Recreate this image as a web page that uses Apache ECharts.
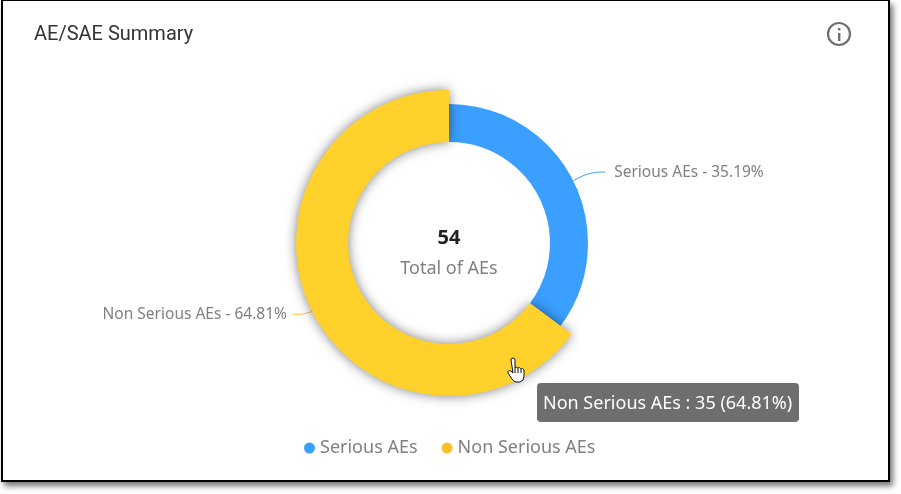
<!DOCTYPE html>
<html>
<head>
<meta charset="utf-8">
<style>
html,body{margin:0;padding:0;width:901px;height:494px;background:#fff;overflow:hidden}
#frame{position:absolute;left:1px;top:0;width:885px;height:479px;border:2px solid #000;border-width:1px 2px 2px 2px;box-shadow:3px 4px 6px rgba(0,0,0,.55);background:#fff}
#c{position:absolute;left:0;top:0;width:901px;height:494px}
</style>
<script src="https://cdn.jsdelivr.net/npm/echarts@6/dist/echarts.min.js"></script>
</head>
<body>
<div id="frame"></div>
<div id="c"></div>
<script>
const categories = ['Serious AEs', 'Non Serious AEs'];
const values = [19, 35];
const percents = ['35.19', '64.81'];
const colors = ['#3A9FFF', '#FBBF2A'];
const totalValue = '54';
const totalLabel = 'Total of AEs';
const chartTitle = 'AE/SAE Summary';
const FONT = '"Noto Sans", sans-serif';

const HandShape = echarts.graphic.extendPath(
  'M5 2a2 2 0 0 1 4 0V10a2 2 0 0 1 3 0a2 2 0 0 1 3 1a2 2 0 0 1 3 1V18q0 5-4 6h-4q-2 0-4-3l-4-6q-1-3 3-2l2 2zM9 10v5M12 10v5M15 11v4',
  {}
);
echarts.graphic.registerShape('handCursor', HandShape);

const chart = echarts.init(document.getElementById('c'), null, {renderer: 'canvas'});
chart.setOption({
  animation: false,
  backgroundColor: 'transparent',
  title: {
    text: chartTitle, left: 29, top: 20,
    textStyle: {fontFamily: 'Roboto', fontSize: 20, fontWeight: 400, color: '#333'}
  },
  tooltip: {
    trigger: 'item', showDelay: 0, transitionDuration: 0,
    backgroundColor: '#6E6E6E', borderWidth: 0, borderRadius: 4, padding: [7, 7, 7, 6],
    textStyle: {fontFamily: FONT, fontSize: 18, color: '#fff'},
    extraCssText: 'box-shadow:none;line-height:25px;',
    position: [537, 383],
    formatter: p => `${p.name} : ${p.value} (${percents[p.dataIndex]}%)`
  },
  legend: {
    data: categories, bottom: 32, left: 299, icon: 'circle',
    itemWidth: 11, itemHeight: 11, itemGap: 24,
    textStyle: {fontFamily: FONT, fontSize: 18, color: '#808080'}
  },
  color: colors,
  series: [{
    type: 'pie',
    center: [449, 243],
    radius: [101, 139],
    startAngle: 90,
    avoidLabelOverlap: false,
    label: {
      show: true, fontFamily: FONT, fontSize: 15.5, color: '#808080',
      formatter: p => `${p.name} - ${percents[p.dataIndex]}%`
    },
    labelLine: {show: true, length2: 13, smooth: 0.4, lineStyle: {width: 1}},
    emphasis: {
      scale: true, scaleSize: 14,
      itemStyle: {color: '#FFD12A', shadowBlur: 12, shadowColor: 'rgba(0,0,0,0.5)'},
      label: {show: true, fontSize: 15.5, fontWeight: 400}
    },
    data: [
      {name: categories[0], value: values[0], label: {distanceToLabelLine: 9}, labelLine: {length: 19, length2: 15}},
      {name: categories[1], value: values[1], label: {distanceToLabelLine: 6}, labelLine: {length: 20, length2: 14}}
    ]
  }],
  graphic: [
    {type: 'text', style: {x: 449, y: 238, text: totalValue, align: 'center', verticalAlign: 'middle', fontFamily: FONT, fontSize: 20, fontWeight: 700, fill: '#222'}},
    {type: 'text', style: {x: 449, y: 269, text: totalLabel, align: 'center', verticalAlign: 'middle', fontFamily: FONT, fontSize: 18, fill: '#808080'}},
    {type: 'circle', shape: {cx: 839, cy: 34, r: 11}, style: {fill: 'none', stroke: '#6f6f6f', lineWidth: 2.2}},
    {type: 'rect', shape: {x: 838, y: 33, width: 2.4, height: 8}, style: {fill: '#6f6f6f'}},
    {type: 'rect', shape: {x: 838, y: 28, width: 2.4, height: 2.4}, style: {fill: '#6f6f6f'}},
    {type: 'handCursor', x: 506, y: 358, z: 100, shape: {x: 0, y: 0, width: 20, height: 24},
      style: {fill: '#fff', stroke: '#111', lineWidth: 1}}
  ]
});
chart.dispatchAction({type: 'highlight', seriesIndex: 0, dataIndex: 1});
chart.dispatchAction({type: 'showTip', seriesIndex: 0, dataIndex: 1});
</script>
</body>
</html>
